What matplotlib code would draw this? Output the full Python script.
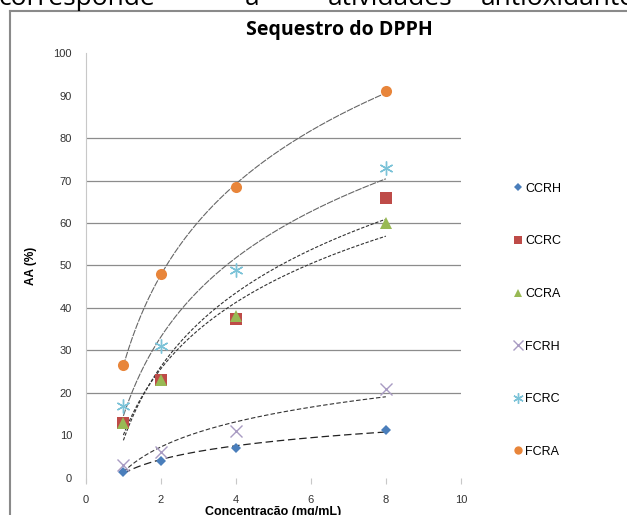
"""
Sequestro do DPPH - atividade antioxidante (AA %) vs concentração
"""

import numpy as np
import matplotlib
matplotlib.use("Agg")
import matplotlib.pyplot as plt
from matplotlib.lines import Line2D

# ── Data ──────────────────────────────────────────────────────────────────────
conc = [1, 2, 4, 8]
ccrh = [1.5, 4.0, 7.0, 11.3]
ccrc = [13.0, 23.0, 37.5, 66.0]
ccra = [13.0, 23.0, 38.0, 60.0]
fcrh = [3.0, 6.0, 11.0, 21.0]
fcrc = [17.0, 31.0, 49.0, 73.0]
fcra = [26.5, 48.0, 68.5, 91.0]

names = ["CCRH", "CCRC", "CCRA", "FCRH", "FCRC", "FCRA"]
series = [ccrh, ccrc, ccra, fcrh, fcrc, fcra]

y_ticks = list(range(0, 101, 10))
x_ticks = list(range(0, 11, 2))
grid_vals = [20, 30, 40, 50, 60, 70, 80]

# ── Style ─────────────────────────────────────────────────────────────────────
styles = {
    "CCRH": dict(marker="D", color="#4a7ebb", ms=5.5, mew=0),
    "CCRC": dict(marker="s", color="#be4b48", ms=8, mew=0),
    "CCRA": dict(marker="^", color="#98b954", ms=8, mew=0),
    "FCRH": dict(marker="x", color="#a99bc3", ms=9, mew=1.0),
    "FCRC": dict(marker=(6, 2, 0), color="#7cc3d8", ms=10, mew=1.0),
    "FCRA": dict(marker="o", color="#e8853a", ms=8, mew=0),
}
trend_styles = {
    "CCRH": dict(color="#222222", lw=0.9, dashes=(6, 3)),
    "CCRC": dict(color="#333333", lw=0.8, dashes=(3, 1.5)),
    "CCRA": dict(color="#333333", lw=0.8, dashes=(3, 1.5)),
    "FCRH": dict(color="#333333", lw=0.8, dashes=(4, 2)),
    "FCRC": dict(color="#666666", lw=0.8, dashes=(6, 1)),
    "FCRA": dict(color="#666666", lw=0.8, dashes=(6, 1)),
}

plt.rcParams["font.family"] = ["Liberation Sans", "DejaVu Sans"]

fig = plt.figure(figsize=(6.27, 5.15), dpi=100)
fig.patch.set_facecolor("white")
ax = fig.add_axes([0.137, 0.072, 0.598, 0.825])

# gridlines
for g in grid_vals:
    ax.axhline(g, color="#8c8c8c", lw=0.9, zorder=1)

# logarithmic trendlines (a + b ln x), fitted to each series
xs = np.linspace(min(conc), max(conc), 200)
for name, ys in zip(names, series):
    b, a = np.polyfit(np.log(conc), ys, 1)
    ax.plot(xs, a + b * np.log(xs), zorder=2, **trend_styles[name])

# points
handles = []
for name, ys in zip(names, series):
    st = styles[name]
    ax.plot(conc, ys, linestyle="none", marker=st["marker"], color=st["color"],
            markersize=st["ms"], markeredgewidth=st["mew"], zorder=4, clip_on=False)
    handles.append(Line2D([], [], linestyle="none", marker=st["marker"], color=st["color"],
                          markersize=st["ms"] * 0.75, markeredgewidth=st["mew"],
                          label=name))

ax.set_xlim(0, 10)
ax.set_ylim(0, 100)
ax.set_xticks(x_ticks)
ax.set_yticks(y_ticks)
ax.spines[["top", "right", "bottom"]].set_visible(False)
ax.spines["left"].set_color("#c8c8c8")
ax.spines["left"].set_bounds(-1, 100)
ax.tick_params(axis="y", length=0, pad=10, labelsize=8, labelcolor="#333333")
ax.tick_params(axis="x", length=4, direction="out", color="#c8c8c8", pad=8,
               labelsize=8, labelcolor="#333333")

ax.set_ylabel("AA (%)", fontsize=8.5, fontweight="bold", labelpad=12)
ax.set_xlabel("Concentração (mg/mL)", fontsize=9, fontweight="bold", labelpad=1)

# title
fig.text(0.542, 0.942, "Sequestro do DPPH", ha="center", va="center",
         fontsize=14, fontweight="bold", family=["Open Sans", "DejaVu Sans"])

# legend
fig.legend(handles=handles, loc="upper left", bbox_to_anchor=(0.812, 0.655),
           frameon=False, fontsize=9, labelspacing=3.25, handlelength=0.6,
           handletextpad=0.3, borderaxespad=0)

# cut-off text line above the chart
for x, w in [(-0.002, "corresponde"), (0.39, "a"), (0.523, "atividades"), (0.766, "antioxidantes")]:
    fig.text(x, 0.99, w, ha="left", va="baseline", fontsize=19,
             family=["Open Sans", "DejaVu Sans"])

# chart border (top and left)
fig.add_artist(Line2D([0.016, 1.0], [0.979, 0.979], color="#8a8a8a", lw=1.5))
fig.add_artist(Line2D([0.016, 0.016], [0.0, 0.979], color="#8a8a8a", lw=1.5))

fig.savefig("out.png", dpi=100, facecolor="white")
